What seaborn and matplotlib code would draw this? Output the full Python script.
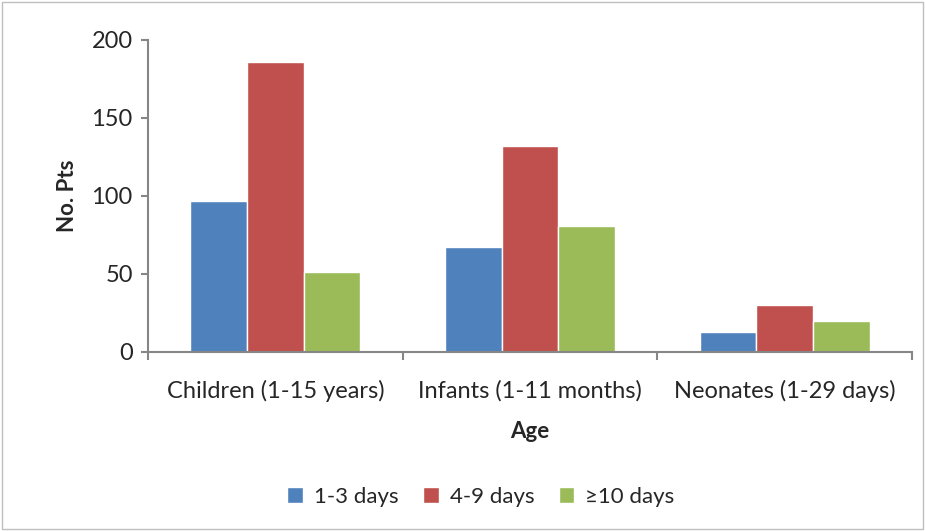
import numpy as np
import pandas as pd
import matplotlib.pyplot as plt
import seaborn as sns
from matplotlib.patches import Rectangle

# data
age_groups = ["Children (1-15 years)", "Infants (1-11 months)", "Neonates (1-29 days)"]
durations = ["1-3 days", "4-9 days", "≥10 days"]
days_1_3 = [97, 67, 13]
days_4_9 = [186, 132, 30]
days_10_plus = [51, 81, 20]

colors = ["#4F81BD", "#C0504D", "#9BBB59"]

rows = []
for i, age in enumerate(age_groups):
    for dur, vals in zip(durations, [days_1_3, days_4_9, days_10_plus]):
        rows.append({"Age": age, "Duration": dur, "No. Pts": vals[i]})
df = pd.DataFrame(rows)

sns.set_style("white")
plt.rcParams['font.family'] = ['Lato', 'DejaVu Sans']

fig = plt.figure(figsize=(9.25, 5.31), dpi=100)
ax = fig.add_axes([148 / 925, 1 - 352 / 531, (912 - 148) / 925, (352 - 40) / 531])

sns.barplot(data=df, x="Age", y="No. Pts", hue="Duration", palette=colors,
            width=0.667, saturation=1, ax=ax, legend=True)

ax.set_ylim(0, 200)
ax.set_xlim(-0.5, 2.5)
ax.set_yticks([0, 50, 100, 150, 200])
ax.tick_params(axis='y', labelsize=17, length=5, width=1.5, color='#868686', left=True, pad=6)
ax.tick_params(axis='x', which='major', labelsize=17, length=0, pad=20)
ax.set_xticks([-0.5, 0.5, 1.5, 2.5], minor=True)
ax.tick_params(axis='x', which='minor', length=6, width=1.5, color='#868686', bottom=True)

for side in ['top', 'right']:
    ax.spines[side].set_visible(False)
for side in ['left', 'bottom']:
    ax.spines[side].set_color('#868686')
    ax.spines[side].set_linewidth(1.5)

ax.set_xlabel("Age", fontsize=16, fontweight='bold', labelpad=14)
ax.set_ylabel("No. Pts", fontsize=16, fontweight='bold', labelpad=10)

handles, labels = ax.get_legend_handles_labels()
ax.legend_.remove()
fig.legend(handles, labels, loc='center', bbox_to_anchor=(0.52, 1 - 497 / 531),
           ncol=3, frameon=False, fontsize=16, handlelength=0.7, handleheight=0.7,
           handletextpad=0.5, columnspacing=1.1)

fig.patches.append(Rectangle((0.002, 0.004), 0.996, 0.992, transform=fig.transFigure,
                             fill=False, edgecolor='#bfbfbf', linewidth=1))

fig.savefig("out.png", dpi=100)
